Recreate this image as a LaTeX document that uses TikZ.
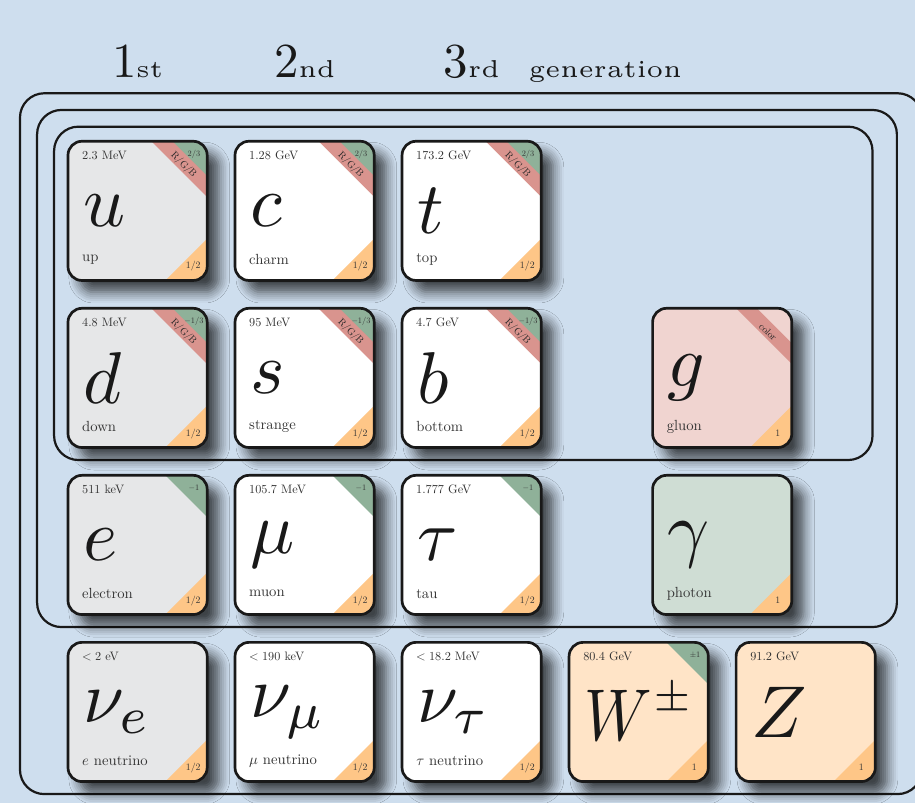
\documentclass[tikz,border=0pt]{standalone}
\usepackage{etoolbox}
\usepackage{graphicx}
\usetikzlibrary{shadows.blur}
\definecolor{bgblue}{RGB}{206,222,238}
\definecolor{genone}{RGB}{230,231,232}
\definecolor{chargegreen}{RGB}{143,177,153}
\definecolor{colorred}{RGB}{217,148,142}
\definecolor{spinorange}{RGB}{254,198,135}
\definecolor{gluonfill}{RGB}{240,212,208}
\definecolor{photonfill}{RGB}{207,221,212}
\definecolor{bosonfill}{RGB}{255,228,199}
\tikzset{
  frame/.style={draw=black!90, line width=0.45pt, rounded corners=0.175cm},
  cardedge/.style={draw=black!90, line width=0.55pt, rounded corners=0.1cm},
  cardshadow/.style={blur shadow={shadow blur steps=6, shadow opacity=70,
      shadow xshift=2.4pt, shadow yshift=-2.4pt, shadow blur radius=2.2pt}},
  masslabel/.style={inner sep=0pt, anchor=west, scale=0.25, text=black!80},
  namelabel/.style={inner sep=0pt, anchor=west, scale=0.3, text=black!80},
  chargelabel/.style={inner sep=0pt, scale=0.17, text=black!80},
  spinlabel/.style={inner sep=0pt, scale=0.2, text=black!80},
  colorlabel/.style={inner sep=0pt, scale=0.2, rotate=-45, text=black!85},
  symlabel/.style={inner sep=0pt, anchor=west, scale=1.5, text=black!90},
  genlabel/.style={anchor=base, inner sep=0pt, text=black!90},
}
% #1 id, #2 position, #3 fill, #4 symbol, #5 charge, #6 spin, #7 mass, #8 name, #9 colour
\newcommand\card[9]{%
\begin{scope}[shift={(#2)}]
  \path[fill=#3, cardshadow, rounded corners=0.1cm] (0,0) rectangle (1,-1);
  \ifstrempty{#5}{}{\fill[chargegreen] (0.7,0) -- (0.9,0) arc[start angle=90,end angle=0,radius=0.1] -- (1,-0.3) -- cycle;}
  \ifstrempty{#9}{}{\fill[colorred] (0.6,0) -- (0.75,0) -- (1,-0.25) -- (1,-0.4) -- cycle;}
  \ifstrempty{#6}{}{\fill[spinorange] (1,-0.7) -- (1,-0.9) arc[start angle=0,end angle=-90,radius=0.1] -- (0.7,-1) -- cycle;}
  \draw[cardedge] (0,0) rectangle (1,-1);
  \ifstrempty{#9}{}{\node[colorlabel] (#1-col) at (0.83,-0.17) {#9};}
  \ifstrempty{#5}{}{\node[chargelabel] (#1-q) at (0.905,-0.095) {#5};}
  \ifstrempty{#6}{}{\node[spinlabel] (#1-s) at (0.9,-0.9) {#6};}
  \ifstrempty{#7}{}{\node[masslabel] (#1-m) at (0.1,-0.1) {#7};}
  \ifstrempty{#8}{}{\node[namelabel] (#1-n) at (0.1,-0.85) {#8};}
  \node[symlabel] (#1-sym) at (0.1,-0.5) {#4};
\end{scope}}
\begin{document}
\begin{tikzpicture}[x=1cm,y=1cm]
  \fill[bgblue] (-0.4885,1.015) rectangle (6.085,-4.754);
  \useasboundingbox (-0.4885,1.015) rectangle (6.085,-4.754);

  \draw[frame] (-0.1,0.105) rectangle (5.78,-2.29);
  \draw[frame] (-0.222,0.225) rectangle (5.955,-3.49);
  \draw[frame] (-0.345,0.345) rectangle (6.135,-4.69);

  \node[genlabel] (gen1) at (0.5,0.455) {1{\tiny st}};
  \node[genlabel] (gen2) at (1.7,0.455) {2{\tiny nd}};
  \node[genlabel] (gen3) at (2.9,0.455) {3{\tiny rd}};
  \node[genlabel] (genword) at (3.86,0.455) {\tiny generation};

  \card{u}{0,0}{genone}{$u$}{$2/3$}{$1/2$}{2.3 MeV}{up}{R/G/B}
  \card{c}{1.2,0}{white}{$c$}{$2/3$}{$1/2$}{1.28 GeV}{charm}{R/G/B}
  \card{t}{2.4,0}{white}{$t$}{$2/3$}{$1/2$}{173.2 GeV}{top}{R/G/B}

  \card{d}{0,-1.2}{genone}{$d$}{$-1/3$}{$1/2$}{4.8 MeV}{down}{R/G/B}
  \card{s}{1.2,-1.2}{white}{$s$}{$-1/3$}{$1/2$}{95 MeV}{strange}{R/G/B}
  \card{b}{2.4,-1.2}{white}{$b$}{$-1/3$}{$1/2$}{4.7 GeV}{bottom}{R/G/B}
  \card{g}{4.2,-1.2}{gluonfill}{$g$}{}{$1$}{}{gluon}{color}

  \card{e}{0,-2.4}{genone}{$e$}{$-1$}{$1/2$}{511 keV}{electron}{}
  \card{mu}{1.2,-2.4}{white}{$\mu$}{$-1$}{$1/2$}{105.7 MeV}{muon}{}
  \card{tau}{2.4,-2.4}{white}{$\tau$}{$-1$}{$1/2$}{1.777 GeV}{tau}{}
  \card{ph}{4.2,-2.4}{photonfill}{$\gamma$}{}{$1$}{}{photon}{}

  \card{ne}{0,-3.6}{genone}{$\nu_e$}{}{$1/2$}{$<2$ eV}{$e$ neutrino}{}
  \card{nm}{1.2,-3.6}{white}{$\nu_\mu$}{}{$1/2$}{$<190$ keV}{$\mu$ neutrino}{}
  \card{nt}{2.4,-3.6}{white}{$\nu_\tau$}{}{$1/2$}{$<18.2$ MeV}{$\tau$ neutrino}{}
  \card{W}{3.6,-3.6}{bosonfill}{$\scalebox{0.85}[1]{$W$}^{\scriptscriptstyle\pm}$}{$\pm1$}{$1$}{80.4 GeV}{}{}
  \card{Z}{4.8,-3.6}{bosonfill}{$Z$}{}{$1$}{91.2 GeV}{}{}
\end{tikzpicture}
\end{document}
